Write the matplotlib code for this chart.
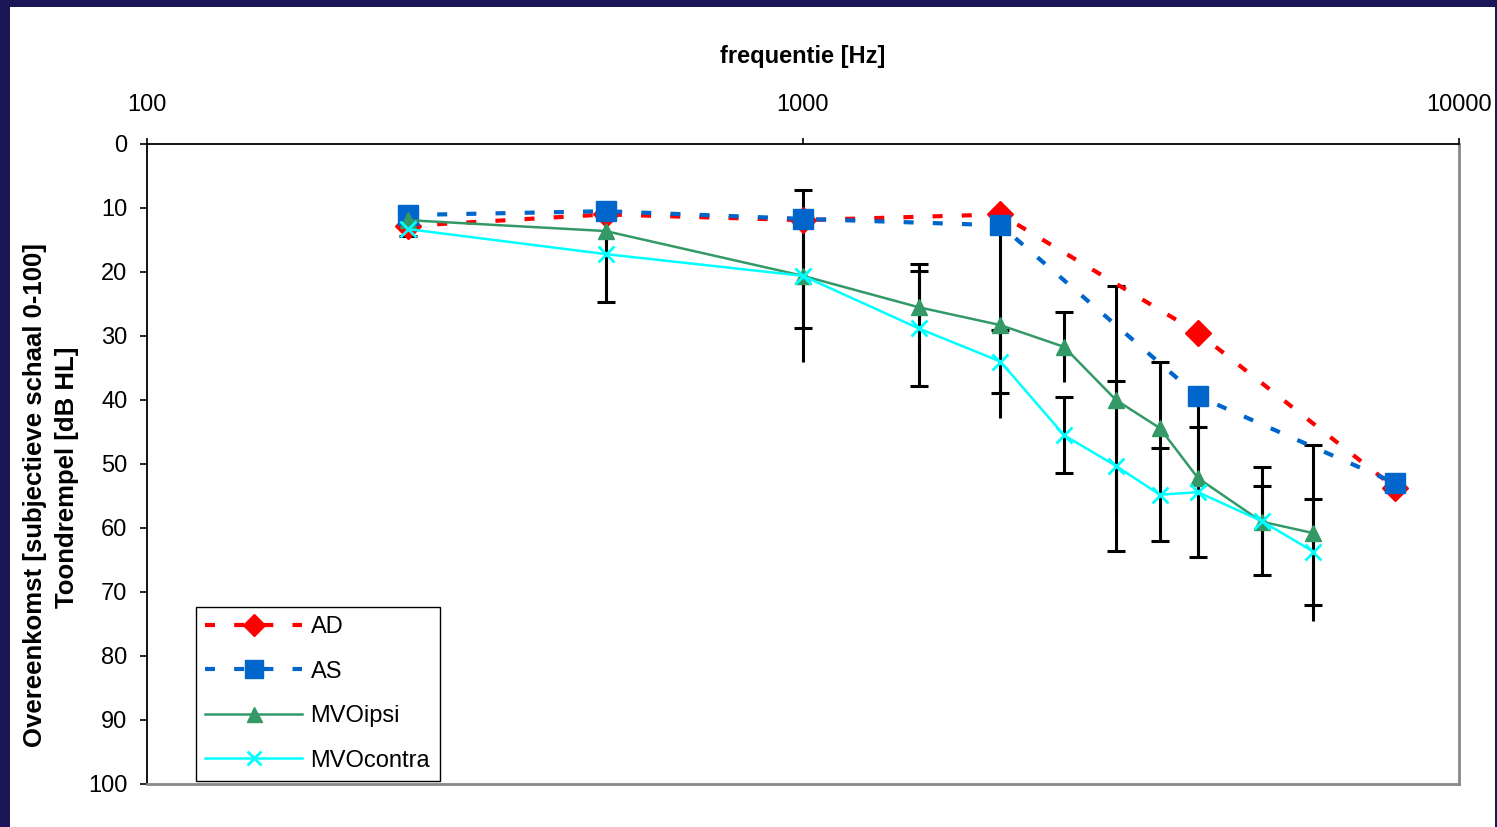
import numpy as np
import matplotlib.pyplot as plt
from matplotlib.patches import Rectangle

plt.rcParams['font.family'] = ['Liberation Sans', 'DejaVu Sans']

# audiogram (AD / AS), 250 - 8000 Hz
freq_ear = [250, 500, 1000, 2000, 4000, 8000]
ad = [12.8, 11.0, 11.9, 11.0, 29.5, 53.8]
as_ = [11.1, 10.5, 11.7, 12.7, 39.4, 53.0]

# MVO matching, 250 - 6000 Hz
freq_mvo = [250, 500, 1000, 1500, 2000, 2500, 3000, 3500, 4000, 5000, 6000]
mvo_ipsi = [11.9, 13.6, 20.6, 25.5, 28.3, 31.7, 40.0, 44.4, 52.2, 59.0, 60.8]
mvo_ipsi_sd = [1.0, 2.0, 13.4, 6.8, 14.5, 5.5, 17.8, 10.4, 12.5, 5.6, 13.8]
mvo_contra = [13.3, 17.2, 20.6, 28.8, 34.0, 45.5, 50.3, 54.8, 54.4, 58.9, 63.7]
mvo_contra_sd = [1.1, 7.5, 8.1, 9.0, 4.9, 5.9, 13.3, 7.3, 10.2, 8.4, 8.3]

xticks = [100, 1000, 10000]
yticks = np.arange(0, 101, 10)

fig = plt.figure(figsize=(14.97, 8.27), dpi=100, facecolor='#1a1759')
fig.patches.append(Rectangle((10 / 1497, 0), 1485 / 1497, 1 - 7 / 827,
                             transform=fig.transFigure, facecolor='white',
                             edgecolor='none', zorder=-10))

ax = fig.add_axes([147 / 1497, 1 - 784 / 827, 1312 / 1497, 640 / 827])
ax.set_xscale('log')
ax.set_xlim(100, 10000)
ax.set_ylim(100, 0)

# error bars (ipsi: cap on upper end only, contra: both caps)
ax.errorbar(freq_mvo, mvo_ipsi, yerr=mvo_ipsi_sd, fmt='none', ecolor='black',
            elinewidth=2.2, capsize=0, zorder=2)
ax.plot(freq_mvo, np.array(mvo_ipsi) - np.array(mvo_ipsi_sd), ls='none',
        marker='_', ms=13, mew=2.2, color='black', zorder=2)
ax.errorbar(freq_mvo, mvo_contra, yerr=mvo_contra_sd, fmt='none', ecolor='black',
            elinewidth=2.2, capsize=6.5, capthick=2.2, zorder=2)

ax.plot(freq_ear, ad, color='#ff0000', lw=3, dashes=(2.4, 4.6), marker='D',
        ms=13, label='AD', zorder=3)
ax.plot(freq_ear, as_, color='#0066cc', lw=3, dashes=(2.4, 4.6), marker='s',
        ms=15, label='AS', zorder=4)
ax.plot(freq_mvo, mvo_ipsi, color='#339966', lw=1.8, marker='^', ms=12,
        label='MVOipsi', zorder=5)
ax.plot(freq_mvo, mvo_contra, color='#00ffff', lw=1.8, marker='x', ms=11,
        mew=2, label='MVOcontra', zorder=6)

ax.xaxis.tick_top()
ax.set_xticks(xticks)
ax.set_xticklabels([str(t) for t in xticks])
ax.xaxis.set_minor_locator(plt.NullLocator())
ax.set_yticks(yticks)
ax.tick_params(axis='x', direction='out', length=4, width=1.2, pad=16,
               labelsize=17)
ax.tick_params(axis='y', direction='out', length=5, width=1.2, pad=9,
               labelsize=17)

ax.spines['top'].set_color('black')
ax.spines['left'].set_color('black')
ax.spines['top'].set_linewidth(1.3)
ax.spines['left'].set_linewidth(1.3)
ax.spines['right'].set_color('#888888')
ax.spines['bottom'].set_color('#888888')
ax.spines['right'].set_linewidth(2)
ax.spines['bottom'].set_linewidth(2)

fig.text(803 / 1497, 1 - 57 / 827, 'frequentie [Hz]', ha='center',
         va='center', fontsize=17, fontweight='bold')
fig.text(35 / 1497, 1 - 495 / 827, 'Overeenkomst [subjectieve schaal 0-100]',
         ha='center', va='center', rotation=90, fontsize=18.5, fontweight='bold')
fig.text(67 / 1497, 1 - 477 / 827, 'Toondrempel [dB HL]',
         ha='center', va='center', rotation=90, fontsize=18.5, fontweight='bold')

leg = ax.legend(loc='lower left', bbox_to_anchor=(49 / 1312, 3 / 640),
                borderaxespad=0, fontsize=17, handlelength=4.1,
                handletextpad=0.35, labelspacing=0.95, numpoints=1,
                fancybox=False, framealpha=1, edgecolor='black',
                borderpad=0.4, markerscale=0.9)
leg.get_frame().set_linewidth(1.0)

fig.savefig('out.png', dpi=100, facecolor=fig.get_facecolor())
